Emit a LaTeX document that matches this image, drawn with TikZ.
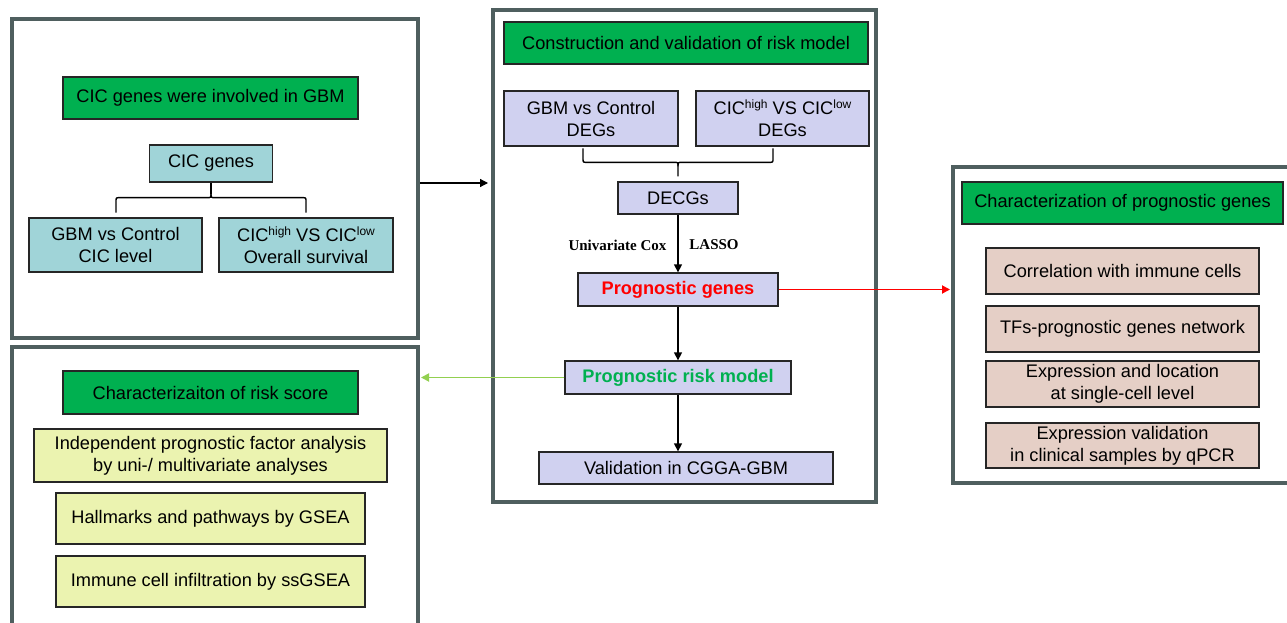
\documentclass[tikz,border=0pt]{standalone}
\usepackage{fontspec}
\setmainfont{Liberation Sans}
\newfontfamily\serifb{Liberation Serif}
\usetikzlibrary{arrows.meta,calc}
\definecolor{hdrgreen}{HTML}{00B050}
\definecolor{tealbox}{HTML}{A0D4D8}
\definecolor{lavbox}{HTML}{D0D1F0}
\definecolor{yelbox}{HTML}{EBF3B0}
\definecolor{pinkbox}{HTML}{E5CFC6}
\definecolor{framegray}{HTML}{4F5F5F}
\definecolor{lightgreen}{HTML}{92D050}
\definecolor{txtgreen}{HTML}{00B050}
\newcommand\supx[1]{\raisebox{0.6ex}{\fontsize{12}{12}\selectfont #1}}
\begin{document}
\begin{tikzpicture}[x=1pt,y=-1pt,
  every node/.style={font=\fontsize{18.2}{22}\selectfont, align=center, inner sep=0pt},
  box/.style={draw=black!85, line width=1.3pt, minimum width=#1},
  hdr/.style={box=#1, fill=hdrgreen, minimum height=42},
  tealb/.style={box=#1, fill=tealbox},
  lav/.style={box=#1, fill=lavbox},
  yel/.style={box=#1, fill=yelbox},
  pink/.style={box=#1, fill=pinkbox},
  panel/.style={draw=framegray, line width=4.5pt},
  arr/.style={line width=1.4pt, -{Triangle[length=8pt,width=8pt]}},
  bline/.style={draw=black, line width=1.4pt},
  lbl/.style={font=\fontsize{15}{17}\selectfont\serifb\bfseries}]
\useasboundingbox (0,0) rectangle (1287,623);
\clip (0,0) rectangle (1287,623);
\fill[white] (0,0) rectangle (1287,623);
% panels
\draw[panel] (12,19) rectangle (418,338);
\draw[panel] (12,347) rectangle (418,660);
\draw[panel] (493,10) rectangle (876,502);
\draw[panel] (953,167) rectangle (1320,483);
% top-left panel
\node[hdr=295] (h1) at (210.5,98) {CIC genes were involved in GBM};
\node[tealb=123, minimum height=37] (cic) at (211,163.5) {CIC genes};
\node[tealb=173, minimum height=54] (gbmcic) at (115.5,245) {GBM vs Control\\CIC level};
\node[tealb=174, minimum height=54] (cichl) at (306,245) {CIC\supx{high} VS CIC\supx{low}\\Overall survival};
% brace (cusp up) from CIC genes to the two boxes
\coordinate (tc) at (cic.south);
\coordinate (tl) at ($(tc)+(-95,30)$);
\coordinate (tr) at ($(tc)+(95,30)$);
\coordinate (tm) at ($(tc)+(0,11)$);
\draw[bline] (tl) -- ($(tl)+(0,-11)$) .. controls ($(tl)+(0,-15)$) .. ($(tl)+(4,-15)$)
  -- ($(tc)+(-4,15)$) .. controls ($(tc)+(0,15)$) .. (tm);
\draw[bline] (tr) -- ($(tr)+(0,-11)$) .. controls ($(tr)+(0,-15)$) .. ($(tr)+(-4,-15)$)
  -- ($(tc)+(4,15)$) .. controls ($(tc)+(0,15)$) .. (tm);
\draw[bline] (cic.south) -- (tm);
% center panel
\node[hdr=364] (h2) at (686,43) {Construction and validation of risk model};
\node[lav=174, minimum height=55] (deg1) at (591,118.5) {GBM vs Control\\DEGs};
\node[lav=173, minimum height=55] (deg2) at (782.5,118.5) {CIC\supx{high} VS CIC\supx{low}\\DEGs};
\node[lav=120, minimum height=32] (decg) at (678,198) {DECGs};
\node[lav=200, minimum height=33, text=red, font=\fontsize{18.2}{22}\selectfont\bfseries] (pg) at (678,289.5) {Prognostic genes};
\node[lav=226, minimum height=33, text=txtgreen, font=\fontsize{18.2}{22}\selectfont\bfseries] (prm) at (678,377.5) {Prognostic risk model};
\node[lav=294, minimum height=32] (val) at (686,468) {Validation in CGGA-GBM};
% brace (cusp down) from the two DEG boxes to DECGs
\coordinate (bc) at ($(decg.north)+(0,-5)$);
\coordinate (bl) at ($(bc)+(-95,-28)$);
\coordinate (br) at ($(bc)+(95,-28)$);
\draw[bline] (bl) -- ($(bl)+(0,10)$) .. controls ($(bl)+(0,14)$) .. ($(bl)+(4,14)$)
  -- ($(bc)+(-4,-14)$) .. controls ($(bc)+(0,-14)$) .. ($(bc)+(0,-10)$) -- (bc);
\draw[bline] (br) -- ($(br)+(0,10)$) .. controls ($(br)+(0,14)$) .. ($(br)+(-4,14)$)
  -- ($(bc)+(4,-14)$) .. controls ($(bc)+(0,-14)$) .. ($(bc)+(0,-10)$);
\draw[arr] (decg.south) -- (pg.north);
\node[lbl] (uc) at (617.5,245) {Univariate Cox};
\node[lbl] (lasso) at (714,245) {LASSO};
\draw[arr] (pg.south) -- (prm.north);
\draw[arr] (prm.south) -- (prm.south |- val.north);
% right panel
\node[hdr=321] (h3) at (1122.5,203) {Characterization of prognostic genes};
\node[pink=273, minimum height=46] (r1) at (1122.5,271) {Correlation with immune cells};
\node[pink=273, minimum height=46] (r2) at (1122.5,329) {TFs-prognostic genes network};
\node[pink=273, minimum height=46] (r3) at (1122.5,384) {Expression and location\\at single-cell level};
\node[pink=273, minimum height=45] (r4) at (1122.5,445.5) {Expression validation\\in clinical samples by qPCR};
% bottom-left panel
\node[hdr=295, minimum height=43] (h4) at (210.5,392.5) {Characterizaiton of risk score};
\node[yel=353, minimum height=53] (b1) at (210.5,455.5) {Independent prognostic factor analysis\\by uni-/ multivariate analyses};
\node[yel=309, minimum height=51] (b2) at (210.5,518.5) {Hallmarks and pathways by GSEA};
\node[yel=309, minimum height=51] (b3) at (210.5,581.5) {Immune cell infiltration by ssGSEA};
% inter-panel connectors
\coordinate (p1out) at (420,183);
\coordinate (p3in) at (488,183);
\draw[arr, line width=1.2pt] (p1out) -- (p3in);
\coordinate (p4in) at (950,0);
\draw[arr, red, line width=1.8pt] (pg.east) -- (pg.east -| p4in);
\coordinate (p2in) at (421,0);
\draw[arr, lightgreen, line width=1.8pt] (prm.west) -- (prm.west -| p2in);
\end{tikzpicture}
\end{document}
